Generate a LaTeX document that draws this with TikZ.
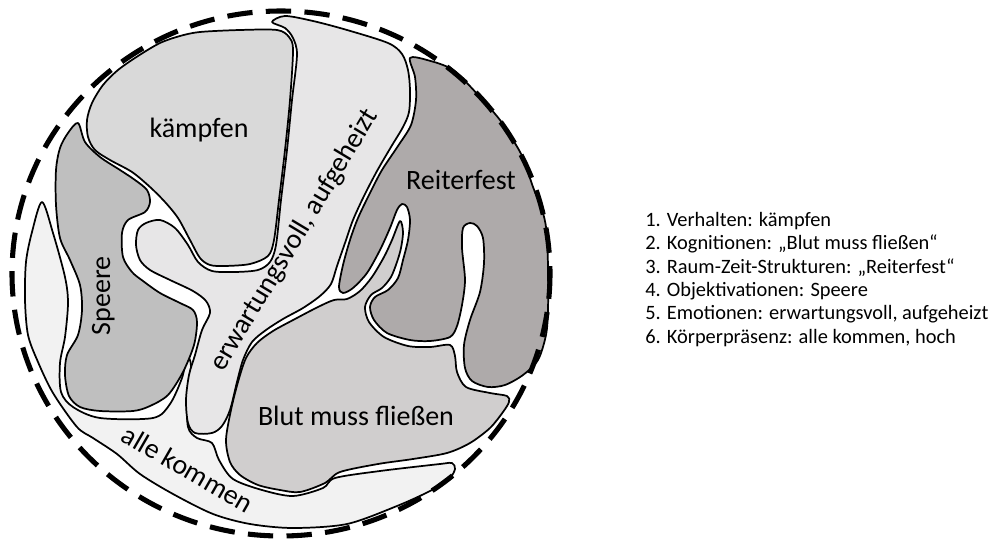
\documentclass[tikz,border=0pt]{standalone}
\usepackage{fontspec}
\setmainfont{Carlito}
\definecolor{cK}{HTML}{D9D9D9}
\definecolor{cS}{HTML}{BFBFBF}
\definecolor{cE}{HTML}{E7E6E7}
\definecolor{cR}{HTML}{AEAAAA}
\definecolor{cB}{HTML}{D0CECE}
\definecolor{cF}{HTML}{F2F2F2}
\tikzset{
  blob/.style={draw=black, line width=1.3pt, line join=round},
  biglabel/.style={font=\fontsize{21}{25}\selectfont, inner sep=0pt, anchor=base},
  listitem/.style={font=\fontsize{15.3}{18}\selectfont, inner sep=0pt, anchor=base west},
  rim/.style={draw=black, line width=3.8pt, dash pattern=on 19pt off 10pt}
}
\begin{document}
\begin{tikzpicture}[x=0.75pt, y=-0.75pt]
\path[use as bounding box] (0,0) rectangle (999,541);

% alle kommen
\draw[blob, fill=cF] plot[smooth cycle, tension=0.5] coordinates {
 (42,202) (53,233) (65,277) (68,303) (65,337) (60,363) (61,392) (73,407) (100,418)
 (153,418) (170,404) (182,378) (187,357) (191,366) (187,395) (188,427) (197,438)
 (212,443) (219,460) (233,479) (262,490) (293,496) (323,488) (335,478) (380,471)
 (440,464) (452,463) (455,469) (449,479) (430,491) (397,506) (347,524) (293,528)
 (250,524) (213,514) (173,494) (140,474) (117,454) (93,438) (77,427) (53,393)
 (38,362) (28,335) (25,300) (26,262) (32,232)};

% Speere
\draw[blob, fill=cS] plot[smooth cycle, tension=0.5] coordinates {
 (78,123) (85,142) (100,157) (120,170) (135,180) (147,190) (150,202) (145,212)
 (128,220) (122,233) (123,257) (132,272) (143,281) (160,293) (180,303) (193,310)
 (197,322) (194,345) (183,372) (168,395) (150,406) (133,411) (100,411) (80,407)
 (69,396) (65,375) (67,355) (78,335) (82,310) (80,285) (70,260) (60,238) (56,205)
 (56,170) (60,148) (68,133)};

% kaempfen
\draw[blob, fill=cK] plot[smooth cycle, tension=0.5] coordinates {
 (87,120) (92,103) (103,85) (118,70) (138,56) (160,43) (180,36) (200,32) (240,30)
 (277,30) (289,37) (293,50) (290,100) (285,150) (279,200) (274,240) (268,256)
 (250,264) (225,266) (210,265) (200,258) (190,240) (178,218) (165,202) (150,187)
 (132,172) (110,160) (95,150) (88,137)};

% erwartungsvoll
\draw[blob, fill=cE] plot[smooth cycle, tension=0.5] coordinates {
 (272,22) (285,16) (313,21) (347,30) (388,43) (402,54) (408,70) (410,90) (409,112)
 (403,127) (391,147) (377,171) (364,196) (353,220) (345,243) (337,266) (331,284)
 (320,296) (303,308) (283,319) (266,330) (252,342) (243,360) (237,382) (230,410)
 (222,426) (212,433) (195,433) (188,423) (186,400) (189,375) (195,355) (202,330)
 (210,313) (206,301) (193,291) (170,280) (150,270) (140,260) (136,245) (138,230)
 (146,223) (160,220) (175,228) (188,245) (198,262) (212,271) (235,272) (258,270)
 (270,262) (276,245) (281,200) (287,150) (292,100) (297,55) (293,38) (285,28)};

% Blut muss fliessen
\draw[blob, fill=cB] plot[smooth cycle, tension=0.5] coordinates {
 (400,221) (403,232) (401,248) (397,262) (391,277) (382,288) (371,295) (365,307)
 (369,322) (384,337) (408,346) (430,347) (450,345) (455,356) (457,372) (466,387)
 (490,393) (507,396) (509,402) (503,412) (490,428) (470,443) (447,453) (413,459)
 (378,464) (340,472) (325,483) (300,492) (280,490) (258,485) (240,475) (230,462)
 (226,440) (231,410) (238,382) (246,358) (257,343) (273,331) (295,319) (318,307)
 (334,300) (347,299) (360,291) (372,277) (384,257) (392,240)};

% Reiterfest
\draw[blob, fill=cR] plot[smooth cycle, tension=0.5] coordinates {
 (410,58) (427,60) (453,70) (480,97) (500,120) (513,140) (523,158) (533,187)
 (543,213) (547,235) (548,270) (548,310) (546,335) (538,360) (523,375) (505,385)
 (488,387) (472,381) (465,368) (464,345) (470,320) (480,292) (484,263) (483,238)
 (477,226) (470,223) (463,228) (462,248) (465,280) (462,305) (457,326) (450,337)
 (430,341) (410,340) (387,333) (374,320) (370,307) (375,297) (388,290) (398,278)
 (403,260) (408,240) (410,220) (407,207) (402,204) (397,210) (390,228) (380,250)
 (367,273) (353,288) (343,293) (339,287) (343,265) (350,240) (358,218) (370,193)
 (382,170) (398,146) (411,125) (416,100) (415,77)};

% dashed rim
\draw[rim] (281,273.5) ellipse [x radius=269, y radius=262.5];

% labels in the picture
\node[biglabel] (tK) at (199,138) {kämpfen};
\node[biglabel] (tR) at (461,190) {Reiterfest};
\node[biglabel] (tB) at (356,425) {Blut muss fließen};
\node[biglabel, rotate=90] (tS) at (110,296) {Speere};
\node[biglabel, rotate=59] (tE) at (301,244) {erwartungsvoll, aufgeheizt};
\node[biglabel, rotate=-30] (tF) at (183,477) {alle kommen};

% list
\node[listitem] (l1) at (645,226.7) {1. Verhalten: kämpfen};
\node[listitem] (l2) at (645,250.0) {2. Kognitionen: „Blut muss fließen“};
\node[listitem] (l3) at (645,273.3) {3. Raum-Zeit-Strukturen: „Reiterfest“};
\node[listitem] (l4) at (645,296.7) {4. Objektivationen: Speere};
\node[listitem] (l5) at (645,320.0) {5. Emotionen: erwartungsvoll, aufgeheizt};
\node[listitem] (l6) at (645,343.3) {6. Körperpräsenz: alle kommen, hoch};
\end{tikzpicture}
\end{document}
